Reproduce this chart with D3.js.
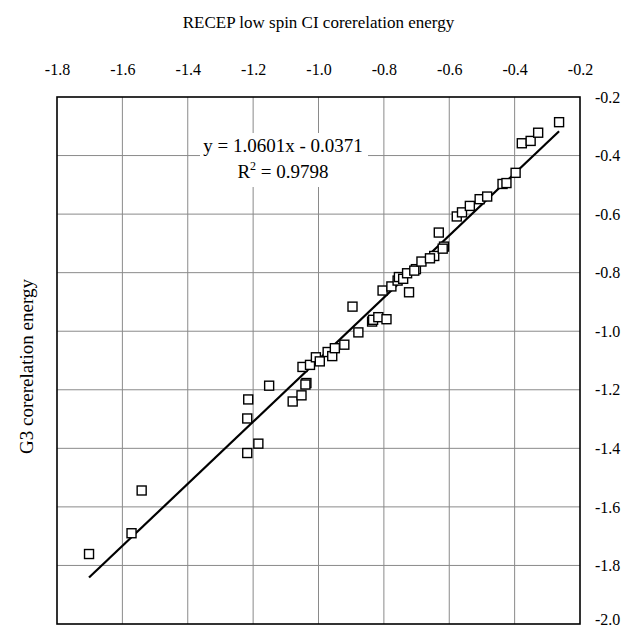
<!DOCTYPE html>
<html>
<head>
<meta charset="utf-8">
<script src="https://cdn.jsdelivr.net/npm/d3@7"></script>
<style>
  html, body { margin: 0; padding: 0; background: #fff; }
  svg { display: block; }
  text { font-family: "Liberation Serif", "Times New Roman", serif; fill: #000; }
</style>
</head>
<body>
<svg id="chart" width="633" height="630"></svg>
<script>
// ---- data ----
const recepX = [-1.702, -1.572, -1.541, -1.218, -1.184, -1.218, -1.215, -1.151, -1.079, -1.052,
  -1.037, -1.040, -1.049, -1.026, -1.008, -0.996, -0.972, -0.958, -0.950, -0.921,
  -0.878, -0.896, -0.836, -0.833, -0.817, -0.792, -0.804, -0.777, -0.758, -0.754,
  -0.741, -0.723, -0.729, -0.702, -0.707, -0.685, -0.646, -0.659, -0.616, -0.620,
  -0.632, -0.577, -0.561, -0.537, -0.507, -0.484, -0.437, -0.425, -0.397, -0.378,
  -0.351, -0.328, -0.264];
const g3Y = [-1.761, -1.690, -1.544, -1.416, -1.384, -1.298, -1.233, -1.186, -1.240, -1.219,
  -1.177, -1.182, -1.122, -1.115, -1.089, -1.103, -1.071, -1.085, -1.058, -1.046,
  -1.004, -0.916, -0.967, -0.961, -0.952, -0.959, -0.861, -0.847, -0.827, -0.815,
  -0.821, -0.867, -0.802, -0.788, -0.793, -0.762, -0.743, -0.751, -0.711, -0.718,
  -0.663, -0.608, -0.594, -0.572, -0.549, -0.540, -0.497, -0.494, -0.459, -0.358,
  -0.350, -0.322, -0.286];
const fitCoef = [1.0601, -0.0371];          // slope, intercept
const xTicks = [-1.8, -1.6, -1.4, -1.2, -1.0, -0.8, -0.6, -0.4, -0.2];
const xTickLabels = ["-1.8", "-1.6", "-1.4", "-1.2", "-1.0", "-0.8", "-0.6", "-0.4", "-0.2"];
const yTicks = [-0.2, -0.4, -0.6, -0.8, -1.0, -1.2, -1.4, -1.6, -1.8, -2.0];
const yTickLabels = ["-0.2", "-0.4", "-0.6", "-0.8", "-1.0", "-1.2", "-1.4", "-1.6", "-1.8", "-2.0"];
const xTitle = "RECEP low spin CI corerelation energy";
const yTitle = "G3 corerelation energy";
const eqLines = ["y = 1.0601x - 0.0371", "R² = 0.9798"];

// ---- layout ----
const L = 57, R = 580, T = 97, B = 624;
const svg = d3.select("#chart");
const x = d3.scaleLinear().domain([-1.8, -0.2]).range([L, R]);
const y = d3.scaleLinear().domain([-2.0, -0.2]).range([B, T]);

// grid
const grid = svg.append("g").attr("stroke", "#8a8a8a").attr("stroke-width", 1);
grid.selectAll("line.v").data(xTicks.slice(1, -1)).join("line")
  .attr("x1", d => x(d)).attr("x2", d => x(d)).attr("y1", T).attr("y2", B);
grid.selectAll("line.h").data(yTicks.slice(1, -1)).join("line")
  .attr("x1", L).attr("x2", R).attr("y1", d => y(d)).attr("y2", d => y(d));

// equation box (white backing)
svg.append("rect").attr("x", 200).attr("y", 133).attr("width", 168).attr("height", 54).attr("fill", "#fff");

// frame
svg.append("rect").attr("x", L).attr("y", T).attr("width", R - L).attr("height", B - T)
  .attr("fill", "none").attr("stroke", "#000").attr("stroke-width", 1.6);

// top axis
const topAxis = svg.append("g").attr("transform", `translate(0,75)`)
  .call(d3.axisTop(x).tickValues(xTicks).tickSize(0).tickPadding(0)
    .tickFormat((d, i) => xTickLabels[i]));
topAxis.select(".domain").remove();
topAxis.selectAll("text").attr("font-size", 16).attr("font-family", "Liberation Serif");

// right axis
const rightAxis = svg.append("g").attr("transform", `translate(${R},0)`)
  .call(d3.axisRight(y).tickValues(yTicks).tickSize(0).tickPadding(15)
    .tickFormat((d, i) => yTickLabels[i]));
rightAxis.select(".domain").remove();
rightAxis.selectAll("text").attr("font-size", 16).attr("font-family", "Liberation Serif");
// keep the bottom label inside the picture
rightAxis.selectAll(".tick").filter(d => d === -2.0).select("text").attr("dy", "0.05em");

// titles
svg.append("text").attr("x", (L + R) / 2).attr("y", 28).attr("text-anchor", "middle")
  .attr("font-size", 17).text(xTitle);
svg.append("text").attr("transform", `translate(33,${(T + B) / 2 + 6}) rotate(-90)`)
  .attr("text-anchor", "middle").attr("font-size", 19).text(yTitle);

// fit line
const xmin = d3.min(recepX), xmax = d3.max(recepX);
const fit = v => fitCoef[0] * v + fitCoef[1];
svg.append("line")
  .attr("x1", x(xmin)).attr("y1", y(fit(xmin)))
  .attr("x2", x(xmax)).attr("y2", y(fit(xmax)))
  .attr("stroke", "#000").attr("stroke-width", 2.2);

// points
const S = 9;
svg.append("g").selectAll("rect").data(recepX.map((v, i) => [v, g3Y[i]])).join("rect")
  .attr("x", d => x(d[0]) - S / 2).attr("y", d => y(d[1]) - S / 2)
  .attr("width", S).attr("height", S)
  .attr("fill", "#fff").attr("stroke", "#000").attr("stroke-width", 1.4);

// equation text
svg.append("text").attr("x", 283).attr("y", 152).attr("text-anchor", "middle")
  .attr("font-size", 19).text(eqLines[0]);
const r2 = svg.append("text").attr("x", 283).attr("y", 178).attr("text-anchor", "middle")
  .attr("font-size", 19);
r2.append("tspan").text("R");
r2.append("tspan").attr("font-size", 12).attr("dy", -8).text("2");
r2.append("tspan").attr("dy", 8).text(" = 0.9798");
</script>
</body>
</html>
